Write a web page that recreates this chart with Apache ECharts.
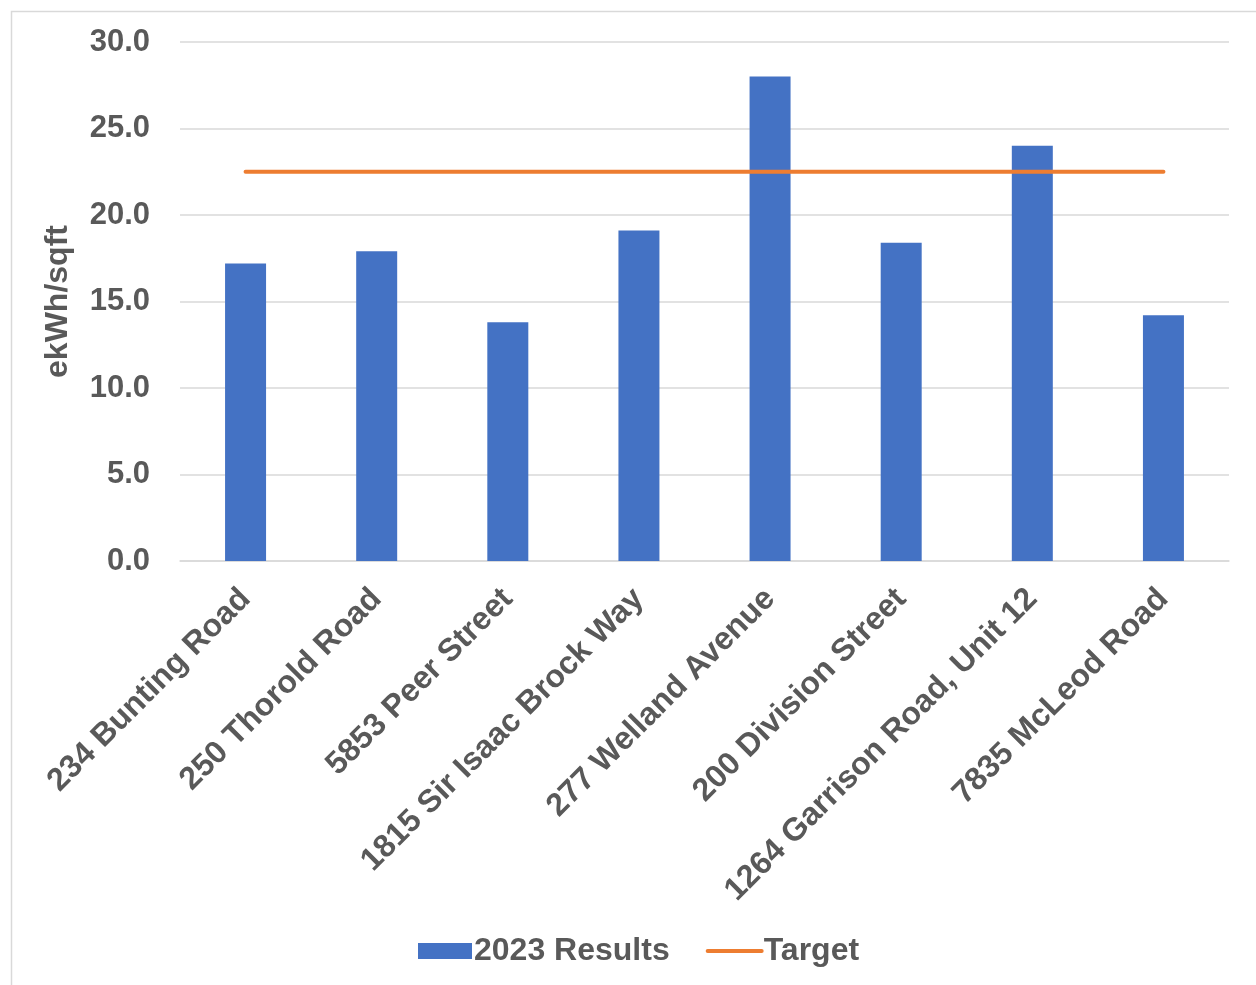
<!DOCTYPE html>
<html>
<head>
<meta charset="utf-8">
<script src="https://cdn.jsdelivr.net/npm/echarts@6/dist/echarts.min.js"></script>
<style>
  html, body { margin: 0; padding: 0; background: #ffffff; }
  #chart { width: 1256px; height: 985px; }
</style>
</head>
<body>
<div id="chart"></div>
<script>
// Building addresses along the category axis
const sites = [
  '234 Bunting Road',
  '250 Thorold Road',
  '5853 Peer Street',
  '1815 Sir Isaac Brock Way',
  '277 Welland Avenue',
  '200 Division Street',
  '1264 Garrison Road, Unit 12',
  '7835 McLeod Road'
];
// Energy use intensity per site, ekWh/sqft
const results2023 = [17.2, 17.9, 13.8, 19.1, 28.0, 18.4, 24.0, 14.2];
// Target intensity, same for every site
const target = [22.5, 22.5, 22.5, 22.5, 22.5, 22.5, 22.5, 22.5];

const textColor = '#595959';
const fontFamily = '"Liberation Sans", Arial, sans-serif';
const tickSize = 31;
const labelSize = 32;

const chart = echarts.init(document.getElementById('chart'), null, { renderer: 'canvas' });
chart.setOption({
  backgroundColor: '#ffffff',
  animation: false,
  textStyle: { fontFamily: fontFamily, color: textColor, fontWeight: 'bold' },
  graphic: [{
    type: 'rect',
    shape: { x: 11.5, y: 11.5, width: 1400, height: 1100 },
    style: { fill: 'none', stroke: '#D9D9D9', lineWidth: 1.5 },
    silent: true
  }],
  grid: { left: 180, right: 27, top: 42, bottom: 424, containLabel: false },
  legend: {
    bottom: 13,
    left: 413,
    itemWidth: 54,
    itemHeight: 16,
    itemGap: 36,
    textStyle: { fontSize: labelSize, fontWeight: 'bold', color: textColor, fontFamily: fontFamily, padding: [0, 0, 0, -3] },
    data: [
      { name: '2023 Results', icon: 'rect' },
      {
        name: 'Target',
        itemStyle: { color: 'rgba(0,0,0,0)', borderWidth: 0, opacity: 0 },
        lineStyle: { color: '#ED7D31', width: 4, cap: 'round' }
      }
    ]
  },
  xAxis: {
    type: 'category',
    data: sites,
    boundaryGap: true,
    axisLine: { show: true, lineStyle: { color: '#D9D9D9', width: 1.5 } },
    axisTick: { show: false },
    axisLabel: {
      rotate: 45,
      interval: 0,
      margin: 33,
      fontSize: labelSize,
      fontWeight: 'bold',
      color: textColor,
      fontFamily: fontFamily
    }
  },
  yAxis: {
    type: 'value',
    min: 0,
    max: 30,
    interval: 5,
    name: 'ekWh/sqft',
    nameLocation: 'middle',
    nameGap: 106,
    nameTextStyle: { fontSize: labelSize, fontWeight: 'bold', color: textColor, fontFamily: fontFamily },
    axisLine: { show: false },
    axisTick: { show: false },
    splitLine: { lineStyle: { color: '#D9D9D9', width: 1.5 } },
    axisLabel: {
      margin: 30,
      fontSize: tickSize,
      fontWeight: 'bold',
      color: textColor,
      fontFamily: fontFamily,
      formatter: v => v.toFixed(1)
    }
  },
  series: [
    {
      name: '2023 Results',
      type: 'bar',
      data: results2023,
      barWidth: 41,
      itemStyle: { color: '#4472C4' }
    },
    {
      name: 'Target',
      type: 'line',
      data: target,
      symbol: 'none',
      lineStyle: { color: '#ED7D31', width: 4, cap: 'round' },
      itemStyle: { color: '#ED7D31' },
      z: 3
    }
  ]
});
</script>
</body>
</html>
